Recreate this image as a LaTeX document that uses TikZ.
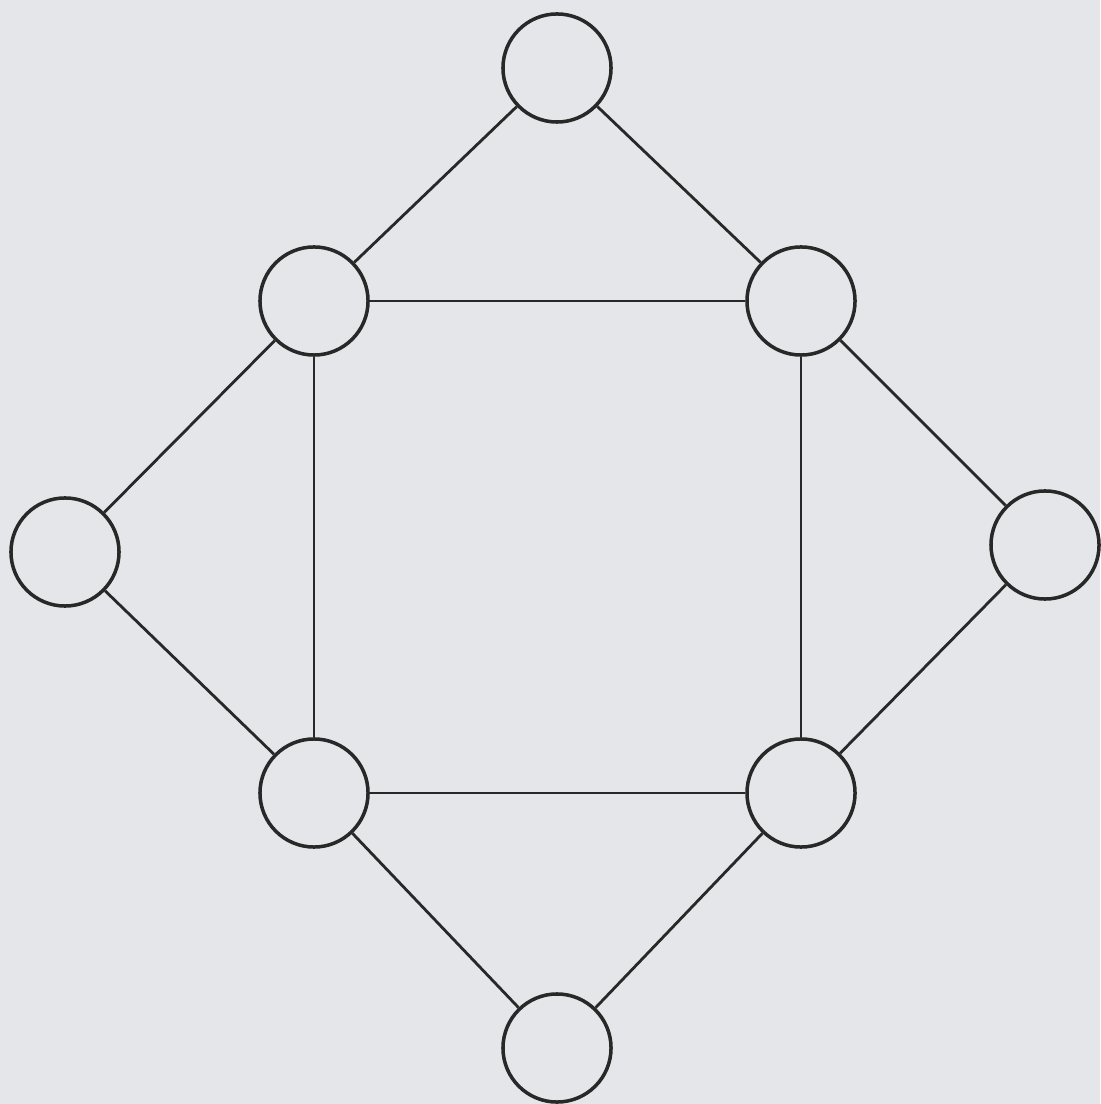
\documentclass[tikz,border=0pt]{standalone}
\usepackage{tikz}
\definecolor{papel}{RGB}{229,230,234}
\definecolor{tinta}{RGB}{40,40,40}

\begin{document}
\begin{tikzpicture}[x=0.01cm, y=-0.01cm,
    vertice/.style={draw=tinta, circle, minimum size=1.08cm, inner sep=0pt, line width=1pt, fill=papel},
    aresta/.style={draw=tinta, line width=0.8pt}]
        % fundo (papel)
        \fill[papel] (0,0) rectangle (1100,1104);
        \useasboundingbox (0,0) rectangle (1100,1104);

        % vertices
        \node[vertice] (topo) at (557,68) {};
        \node[vertice] (se) at (314,301) {};
        \node[vertice] (sd) at (801,301) {};
        \node[vertice] (esq) at (65,552) {};
        \node[vertice] (dir) at (1045,545) {};
        \node[vertice] (ie) at (314,793) {};
        \node[vertice] (id) at (801,793) {};
        \node[vertice] (base) at (557,1048) {};

        % arestas
        \draw[aresta] (topo) -- (se);
        \draw[aresta] (topo) -- (sd);
        \draw[aresta] (se) -- (sd);
        \draw[aresta] (se) -- (esq);
        \draw[aresta] (sd) -- (dir);
        \draw[aresta] (se) -- (ie);
        \draw[aresta] (sd) -- (id);
        \draw[aresta] (ie) -- (id);
        \draw[aresta] (esq) -- (ie);
        \draw[aresta] (dir) -- (id);
        \draw[aresta] (ie) -- (base);
        \draw[aresta] (id) -- (base);
    \end{tikzpicture}
\end{document}
